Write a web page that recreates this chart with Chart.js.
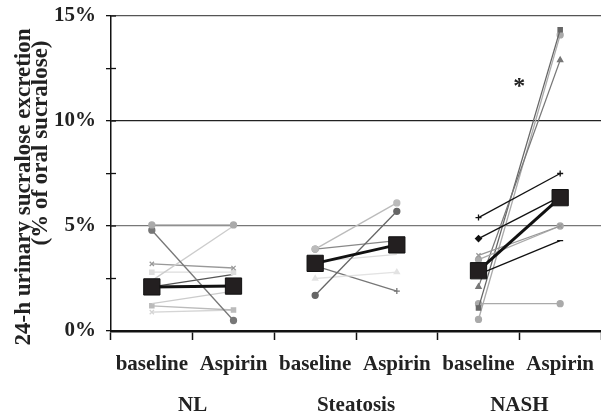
<!DOCTYPE html>
<html lang="en">
<head>
    <meta charset="UTF-8">
    <title>Sucralose excretion</title>
    <script src="https://cdn.jsdelivr.net/npm/chart.js"></script>
    <style>
        html, body { margin: 0; padding: 0; background: #fff; }
        #wrap { width: 601px; height: 417px; }
    </style>
</head>
<body>
    <div id="wrap"><canvas id="sucraloseChart" width="601" height="417"></canvas></div>

    <script>
        // categories on the x axis
        var categories = ['baseline', 'Aspirin', 'baseline', 'Aspirin', 'baseline', 'Aspirin'];
        var groups = ['NL', 'Steatosis', 'NASH'];
        var yTickValues = [0, 5, 10, 15];

        // individual subjects (% of oral sucralose)
        var nlBaseline = [5.05, 4.8, 2.4, 3.2, 2.8, 2.1, 1.3, 1.2, 0.9];
        var nlAspirin = [5.05, 0.5, 5.0, 3.0, 2.8, 2.7, 1.9, 1.0, 1.0];
        var steatBaseline = [3.9, 1.7, 3.9, 3.3, 2.5, 3.1];
        var steatAspirin = [6.1, 5.7, 4.3, 3.65, 2.8, 1.9];
        var nashBaseline = [5.4, 4.4, 3.6, 3.4, 2.7, 2.1, 1.1, 0.55, 1.3];
        var nashAspirin = [7.5, 6.4, 5.0, 5.0, 4.3, 12.9, 14.35, 14.1, 1.3];

        // group means
        var meanBaseline = [2.1, 3.22, 2.87];
        var meanAspirin = [2.14, 4.1, 6.35];

        // significance mark
        var starValue = 11.8;

        // styles for the subject lines
        var nlColors = ['#aaa', '#777', '#ccc', '#999', '#ddd', '#555', '#ccc', '#bbb', '#d5d5d5'];
        var nlMarkers = ['circle', 'circle', false, 'crossRot', 'rect', false, false, 'rect', 'crossRot'];
        var steatColors = ['#bbb', '#666', '#888', '#ddd', '#e3e3e3', '#777'];
        var steatMarkers = ['circle', 'circle', 'circle', false, 'triangle', 'cross'];
        var nashColors = ['#111', '#111', '#999', '#aaa', '#111', '#777', '#666', '#aaa', '#aaa'];
        var nashMarkers = ['cross', 'rectRot', 'crossRot', 'circle', 'line', 'triangle', 'rect', 'circle', 'circle'];

        var serif = '"Liberation Serif", "Times New Roman", serif';

        function pairData(idx, a, b) {
            var d = [null, null, null, null, null, null];
            d[idx] = a;
            d[idx + 1] = b;
            return d;
        }

        var datasets = [];
        function addSubjects(idx, base, asp, colors, markers) {
            for (var i = 0; i < base.length; i++) {
                datasets.push({
                    data: pairData(idx, base[i], asp[i]),
                    borderColor: colors[i],
                    backgroundColor: colors[i],
                    borderWidth: 1.3,
                    pointStyle: markers[i] || 'circle',
                    pointRadius: markers[i] ? 3 : 0,
                    pointBorderWidth: 1.3,
                    order: 2
                });
            }
        }
        addSubjects(0, nlBaseline, nlAspirin, nlColors, nlMarkers);
        addSubjects(2, steatBaseline, steatAspirin, steatColors, steatMarkers);
        addSubjects(4, nashBaseline, nashAspirin, nashColors, nashMarkers);

        for (var g = 0; g < groups.length; g++) {
            datasets.push({
                data: pairData(g * 2, meanBaseline[g], meanAspirin[g]),
                borderColor: '#111',
                backgroundColor: '#231f20',
                borderWidth: 3,
                pointStyle: 'rect',
                pointRadius: 11.5,
                pointBorderWidth: 1,
                pointBorderColor: '#111',
                order: 0
            });
        }

        // group names, asterisk, y title and the inner half of the y ticks
        var extraText = {
            id: 'extraText',
            afterDraw: function(chart) {
                var ctx = chart.ctx;
                var xs = chart.scales.x;
                var ys = chart.scales.y;
                ctx.save();

                ctx.strokeStyle = '#111';
                ctx.lineWidth = 1.3;
                ys.ticks.forEach(function(t) {
                    var py = ys.getPixelForValue(t.value);
                    ctx.beginPath();
                    ctx.moveTo(ys.right, py);
                    ctx.lineTo(ys.right + 5, py);
                    ctx.stroke();
                });

                ctx.fillStyle = '#222';
                ctx.textAlign = 'center';
                ctx.textBaseline = 'alphabetic';
                ctx.font = 'bold 21px ' + serif;
                for (var g = 0; g < groups.length; g++) {
                    var cx = (xs.getPixelForValue(g * 2) + xs.getPixelForValue(g * 2 + 1)) / 2;
                    ctx.fillText(groups[g], cx, 411);
                }
                ctx.font = 'bold 24px ' + serif;
                ctx.textBaseline = 'middle';
                var sx = (xs.getPixelForValue(4) + xs.getPixelForValue(5)) / 2;
                ctx.fillText('*', sx, ys.getPixelForValue(starValue) + 4);

                // axis title, two lines
                ctx.translate(24, 187);
                ctx.rotate(-Math.PI / 2);
                ctx.textAlign = 'center';
                ctx.font = 'bold 23px ' + serif;
                ctx.fillText('24-h urinary sucralose excretion', 0, 0);
                ctx.fillText('(% of oral sucralose)', 44, 17);
                ctx.restore();
            }
        };

        var ctx = document.getElementById('sucraloseChart').getContext('2d');
        var chart = new Chart(ctx, {
            type: 'line',
            data: { labels: categories, datasets: datasets },
            options: {
                responsive: false,
                animation: false,
                layout: { autoPadding: false, padding: { left: 0, right: -3, top: 16, bottom: 0 } },
                plugins: {
                    legend: { display: false },
                    tooltip: { enabled: false }
                },
                scales: {
                    x: {
                        offset: true,
                        grid: {
                            offset: true,
                            drawOnChartArea: false,
                            tickLength: 9,
                            tickColor: '#111',
                            tickWidth: 1.5
                        },
                        border: { color: '#111', width: 2.5 },
                        ticks: {
                            color: '#222',
                            padding: 12,
                            maxRotation: 0,
                            autoSkip: false,
                            font: { family: serif, size: 21, weight: 'bold' }
                        },
                        afterFit: function(scale) {
                            scale.height = 86;
                            scale.paddingLeft = 0;
                            scale.paddingRight = 0;
                        }
                    },
                    y: {
                        min: 0,
                        max: 15,
                        ticks: {
                            stepSize: 2.5,
                            color: '#222',
                            padding: 10,
                            font: { family: serif, size: 21, weight: 'bold' },
                            callback: function(v) {
                                return yTickValues.indexOf(v) >= 0 ? v + '%' : '';
                            }
                        },
                        grid: {
                            tickLength: 5,
                            tickColor: '#111',
                            lineWidth: 1.3,
                            color: function(c) {
                                var v = c.tick.value;
                                if (v === 5) return '#777';
                                if (v === 10) return '#222';
                                if (v === 15) return '#555';
                                return 'rgba(0,0,0,0)';
                            }
                        },
                        border: { color: '#111', width: 1.5 },
                        afterFit: function(scale) {
                            scale.width = 111;
                            scale.paddingTop = 0;
                            scale.paddingBottom = 0;
                        }
                    }
                }
            },
            plugins: [extraText]
        });
    </script>
</body>
</html>
